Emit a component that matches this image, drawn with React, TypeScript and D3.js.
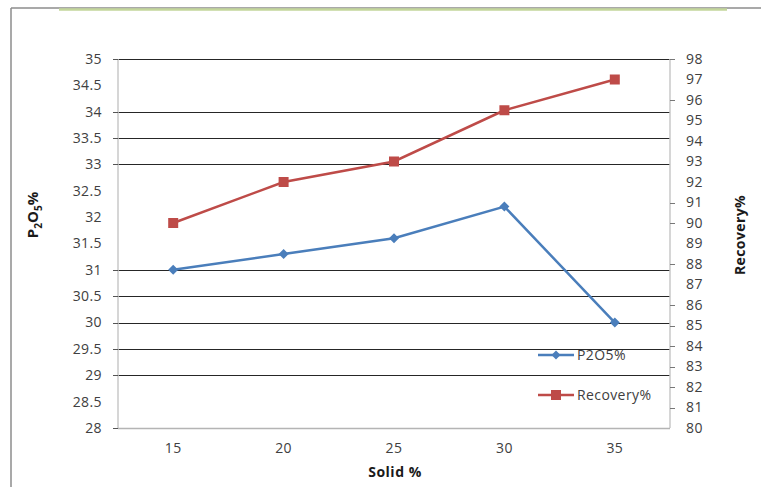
import React from "react";
import * as d3 from "d3";

const categories = ["15", "20", "25", "30", "35"];
const p2o5 = [31.0, 31.3, 31.6, 32.2, 30.0];
const recovery = [90, 92, 93, 95.5, 97];
const leftTicks = [28, 28.5, 29, 29.5, 30, 30.5, 31, 31.5, 32, 32.5, 33, 33.5, 34, 34.5, 35];
const rightTicks = [80, 81, 82, 83, 84, 85, 86, 87, 88, 89, 90, 91, 92, 93, 94, 95, 96, 97, 98];
const gridValues = [29, 29.5, 30, 30.5, 31, 33, 33.5, 34, 35];
const leftTickMarks = [28, 29, 29.5, 30, 30.5, 31, 33, 33.5, 34, 35];
const rightTickMarks = [81, 82, 83, 84, 85, 86, 88, 90, 91, 96, 98];

const W = 761, H = 487;
const L = 118, R = 670, T = 59, B = 428;
const BLUE = "#4a7ebb", RED = "#be4b48";
const FONT = "'Open Sans', 'Liberation Sans', sans-serif";
const FS = 14;
const LS = 0.4;

export default function App() {
  const x = d3.scaleBand().domain(categories).range([L, R]);
  const xc = (c: string) => (x(c) as number) + x.bandwidth() / 2;
  const yL = d3.scaleLinear().domain([28, 35]).range([B, T]);
  const yR = d3.scaleLinear().domain([80, 98]).range([B, T]);
  const lineL = d3.line<number>().x((_, i) => xc(categories[i])).y((d) => yL(d));
  const lineR = d3.line<number>().x((_, i) => xc(categories[i])).y((d) => yR(d));
  const diamond = (cx: number, cy: number, s: number) =>
    `M${cx},${cy - s}L${cx + s},${cy}L${cx},${cy + s}L${cx - s},${cy}Z`;

  return (
    <svg width={W} height={H} style={{ position: "absolute", left: 0, top: 0, background: "#fff" }}>
      <rect x={0} y={0} width={W} height={H} fill="#fff" />
      {/* frame */}
      <line x1={11} y1={8} x2={W} y2={8} stroke="#8c8c8c" strokeWidth={1.5} />
      <line x1={11} y1={8} x2={11} y2={H} stroke="#8c8c8c" strokeWidth={1.5} />
      <line x1={59} y1={9.5} x2={727} y2={9.5} stroke="#c3d69b" strokeWidth={2.5} />

      {/* gridlines */}
      {gridValues.map((v) => (
        <line key={"g" + v} x1={L} x2={R} y1={Math.round(yL(v)) + 0.5} y2={Math.round(yL(v)) + 0.5} stroke="#262626" strokeWidth={1} />
      ))}
      {/* axes */}
      <line x1={L} x2={L} y1={T} y2={B} stroke="#c8c8c8" strokeWidth={1.5} />
      <line x1={R} x2={R} y1={T} y2={B} stroke="#c8c8c8" strokeWidth={1.5} />
      <line x1={L} x2={R} y1={B + 0.5} y2={B + 0.5} stroke="#b4b4b4" strokeWidth={1.5} />
      {leftTickMarks.map((v) => (
        <line key={"lt" + v} x1={L - 5} x2={L} y1={Math.round(yL(v)) + 0.5} y2={Math.round(yL(v)) + 0.5} stroke="#555" />
      ))}
      {rightTickMarks.map((v) => (
        <line key={"rt" + v} x1={R} x2={R + 5} y1={Math.round(yR(v)) + 0.5} y2={Math.round(yR(v)) + 0.5} stroke="#777" />
      ))}
      {/* left tick labels */}
      {leftTicks.map((v) => (
        <text key={"ll" + v} x={102} y={yL(v)} dy="0.35em" textAnchor="end" fontFamily={FONT} fontSize={FS} letterSpacing={LS} fill="#404040">
          {String(v)}
        </text>
      ))}
      {rightTicks.map((v) => (
        <text key={"rl" + v} x={686} y={yR(v)} dy="0.35em" textAnchor="start" fontFamily={FONT} fontSize={FS} letterSpacing={LS} fill="#404040">
          {String(v)}
        </text>
      ))}
      {categories.map((c) => (
        <text key={"x" + c} x={xc(c)} y={448} dy="0.35em" textAnchor="middle" fontFamily={FONT} fontSize={FS} letterSpacing={LS} fill="#404040">
          {c}
        </text>
      ))}
      {/* axis titles */}
      <text x={395} y={472} dy="0.35em" textAnchor="middle" fontFamily={FONT} fontSize={14} letterSpacing={0.5} fontWeight="bold" fill="#1a1a1a">
        Solid %
      </text>
      <text transform="translate(38,215) rotate(-90)" textAnchor="middle" fontFamily={FONT} fontSize={15} fontWeight="bold" fill="#1a1a1a">
        P<tspan fontSize={10} dy="4">2</tspan><tspan dy="-4">O</tspan><tspan fontSize={10} dy="4">5</tspan><tspan dy="-4">%</tspan>
      </text>
      <text transform="translate(745,235) rotate(-90)" textAnchor="middle" fontFamily={FONT} fontSize={14} letterSpacing={0.4} fontWeight="bold" fill="#1a1a1a">
        Recovery%
      </text>

      {/* series */}
      <path d={lineL(p2o5) || ""} fill="none" stroke={BLUE} strokeWidth={2.5} />
      {p2o5.map((v, i) => (
        <path key={"d" + i} d={diamond(xc(categories[i]), yL(v), 5)} fill={BLUE} />
      ))}
      <path d={lineR(recovery) || ""} fill="none" stroke={RED} strokeWidth={2.5} />
      {recovery.map((v, i) => (
        <rect key={"s" + i} x={xc(categories[i]) - 5} y={yR(v) - 5} width={10} height={10} fill={RED} />
      ))}

      {/* legend */}
      <line x1={538} x2={574} y1={355} y2={355} stroke={BLUE} strokeWidth={2.5} />
      <path d={diamond(556, 355, 4.5)} fill={BLUE} />
      <text x={577} y={355} dy="0.35em" fontFamily={FONT} fontSize={FS} letterSpacing={LS} fill="#404040">P2O5%</text>
      <line x1={538} x2={574} y1={395} y2={395} stroke={RED} strokeWidth={2.5} />
      <rect x={551} y={390} width={10} height={10} fill={RED} />
      <text x={577} y={395} dy="0.35em" fontFamily={FONT} fontSize={FS} letterSpacing={LS} fill="#404040">Recovery%</text>
    </svg>
  );
}
